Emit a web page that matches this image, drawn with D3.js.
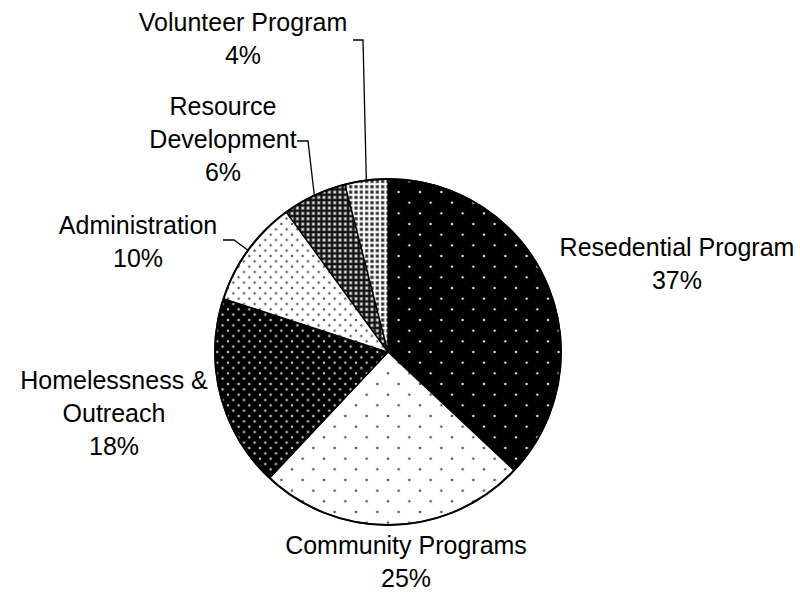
<!DOCTYPE html>
<html>
<head>
<meta charset="utf-8">
<script src="https://cdn.jsdelivr.net/npm/d3@7"></script>
<style>
  body { margin: 0; background: #fff; }
  svg text { font-family: "Liberation Sans", Arial, sans-serif; font-size: 25px; fill: #000; }
</style>
</head>
<body>
<svg id="chart" width="800" height="594"></svg>
<script>
// chart data
var categories = ["Resedential Program", "Community Programs", "Homelessness & Outreach",
    "Administration", "Resource Development", "Volunteer Program"];
var shares = [37, 25, 18, 10, 6, 4];
// how each label is broken into lines
var labelLines = [
    ["Resedential Program", "37%"],
    ["Community Programs", "25%"],
    ["Homelessness &", "Outreach", "18%"],
    ["Administration", "10%"],
    ["Resource", "Development", "6%"],
    ["Volunteer Program", "4%"]
];

var svg = d3.select("#chart");
var defs = svg.append("defs");

var cx = 388, cy = 352, radius = 173;
var lineH = 33;

/*
 *  fill patterns, one per slice
 */
function dotPattern(id, size, bg, dot, r) {
    var p = defs.append("pattern")
        .attr("id", id)
        .attr("patternUnits", "userSpaceOnUse")
        .attr("width", size).attr("height", size);
    p.append("rect").attr("width", size).attr("height", size).attr("fill", bg);
    [[0, 0], [size, 0], [0, size], [size, size], [size / 2, size / 2]].forEach(function(c) {
        p.append("circle").attr("cx", c[0]).attr("cy", c[1]).attr("r", r).attr("fill", dot);
    });
}
function crossPattern(id, size, bg, cross, dot) {
    var p = defs.append("pattern")
        .attr("id", id)
        .attr("patternUnits", "userSpaceOnUse")
        .attr("width", size).attr("height", size);
    p.append("rect").attr("width", size).attr("height", size).attr("fill", bg);
    var h = size / 2, t = size * 0.16;
    p.append("rect").attr("x", h - t).attr("y", 0).attr("width", 2 * t).attr("height", size).attr("fill", cross);
    p.append("rect").attr("x", 0).attr("y", h - t).attr("width", size).attr("height", 2 * t).attr("fill", cross);
    [[0, 0], [size, 0], [0, size], [size, size]].forEach(function(c) {
        p.append("circle").attr("cx", c[0]).attr("cy", c[1]).attr("r", size * 0.2).attr("fill", dot);
    });
}

dotPattern("p0", 21.33, "#000", "#ddd", 1.3);
dotPattern("p1", 21.33, "#fff", "#555", 1.3);
dotPattern("p2", 10.67, "#000", "#ccc", 1.2);
dotPattern("p3", 10.67, "#fff", "#555", 1.2);
crossPattern("p4", 5.33, "#6a6a6a", "#111", "#eee");
crossPattern("p5", 5.33, "#777", "#fff", "#222");

/*
 *  pie
 */
var pie = d3.pie().sort(null).value(function(d) { return d; });
var arcs = pie(shares);
var arc = d3.arc().innerRadius(0).outerRadius(radius);

var g = svg.append("g").attr("transform", "translate(" + cx + "," + cy + ")");

g.selectAll("path.slice")
    .data(arcs)
    .enter()
    .append("path")
    .attr("class", "slice")
    .attr("d", arc)
    .attr("fill", function(d, i) { return "url(#p" + i + ")"; })
    .attr("stroke", "#000")
    .attr("stroke-width", 1.3)
    .attr("stroke-linejoin", "round");

g.append("circle")
    .attr("r", radius)
    .attr("fill", "none")
    .attr("stroke", "#000")
    .attr("stroke-width", 2);

/*
 *  labels (anchor = centre of first line, relative to the pie centre)
 */
var labelAt = [
    [289, -105],
    [18, 193],
    [-274, 28],
    [-250, -127],
    [-165, -246],
    [-145, -330]
];

var labels = svg.append("g").attr("transform", "translate(" + cx + "," + cy + ")");
labelLines.forEach(function(lines, i) {
    var t = labels.append("text")
        .attr("text-anchor", "middle")
        .attr("x", labelAt[i][0])
        .attr("y", labelAt[i][1] + 9);
    lines.forEach(function(s, k) {
        t.append("tspan")
            .attr("x", labelAt[i][0])
            .attr("dy", k == 0 ? 0 : lineH)
            .text(s);
    });
});

// leader lines for the small slices, ending on the arc at the slice middle
var edge = d3.arc().innerRadius(radius).outerRadius(radius);
var leaders = [
    { i: 3, pts: [[-165, -112], [-154, -112]] },
    { i: 4, pts: [[-91, -211], [-80, -211]] },
    { i: 5, pts: [[-35, -312], [-25, -312]] }
];
leaders.forEach(function(l) {
    var end = edge.centroid(arcs[l.i]);
    g.append("path")
        .attr("d", d3.line()(l.pts.concat([end])))
        .attr("fill", "none")
        .attr("stroke", "#000")
        .attr("stroke-width", 1.3);
});
</script>
</body>
</html>
